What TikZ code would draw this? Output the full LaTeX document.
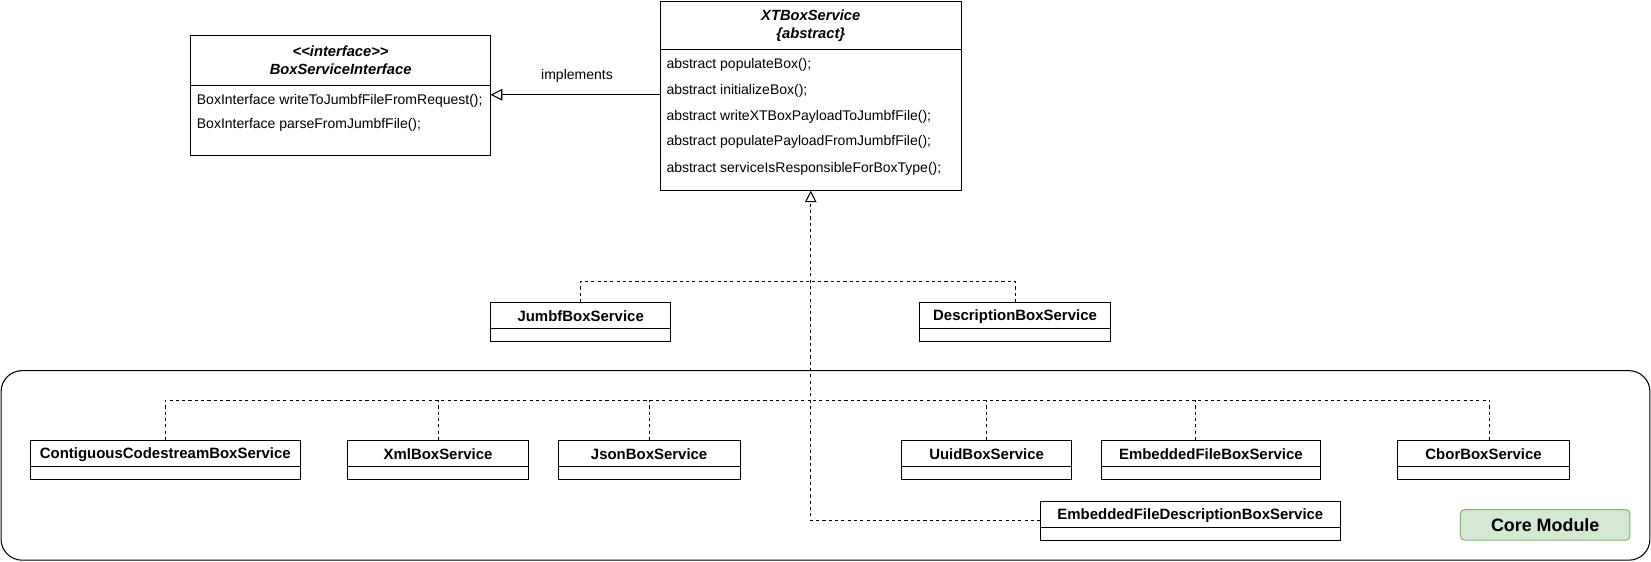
\documentclass[tikz,border=0pt]{standalone}
\usepackage{fontspec}
\setmainfont{Liberation Sans}
\usetikzlibrary{arrows.meta}
\definecolor{coregreen}{HTML}{D5E8D4}
\definecolor{coreline}{HTML}{82B366}
\newcommand{\childcls}[5]{%
  \node[cls, minimum width=#4pt] (#1) at (#2,#3) {};
  \node[clsname] (#1-t) at ([yshift=-13.5pt]#1.north) {#5};
  \draw[solidln] ([yshift=-25pt]#1.north west) -- ([yshift=-25pt]#1.north east);}
\begin{document}
\begin{tikzpicture}[x=1pt,y=-1pt,
  every node/.style={inner sep=0pt, outer sep=0pt},
  solidln/.style={line width=1pt},
  cls/.style={draw, line width=1pt, minimum height=37pt, anchor=north west},
  boxpart/.style={draw, line width=1pt, anchor=north west},
  clsname/.style={font=\fontsize{14.2}{17}\selectfont\bfseries},
  row/.style={anchor=west, font=\fontsize{13.3}{16}\selectfont},
  ttl/.style={font=\fontsize{14}{17}\selectfont\bfseries\itshape, align=center},
  dep/.style={dash pattern=on 3pt off 3pt, line width=1pt},
  opentri/.style={-{Triangle[open,width=11pt,length=11pt]}}
]
\useasboundingbox (0,0) rectangle (1568,533);

% module container
\node[draw, line width=1pt, rounded corners=20pt, minimum width=1566pt, minimum height=180pt, anchor=north west] (module) at (1,352) {};
\node[draw=coreline, fill=coregreen, line width=1pt, rounded corners=4pt, minimum width=161pt, minimum height=29pt, anchor=north west, font=\fontsize{17}{20}\selectfont\bfseries] (core) at (1387,484) {Core Module};

% interface
\node[boxpart, minimum width=285pt, minimum height=47pt] (ifh) at (181,34) {};
\node[boxpart, minimum width=285pt, minimum height=67pt] (ifb) at (181,81) {};
\node[ttl] (ift) at (ifh.center) {{<}{<}interface{>}{>}\\BoxServiceInterface};
\node[row] (ir1) at (187,96) {BoxInterface writeToJumbfFileFromRequest();};
\node[row] (ir2) at (187,119) {BoxInterface parseFromJumbfFile();};

% abstract class
\node[boxpart, minimum width=286pt, minimum height=46pt] (xth) at (627,1) {};
\node[boxpart, minimum width=286pt, minimum height=134pt] (xtb) at (627,47) {};
\node[ttl] (xtt) at (xth.center) {XTBoxService\\\{abstract\}};
\node[row] (xr1) at (633,62) {abstract populateBox();};
\node[row] (xr2) at (633,86) {abstract initializeBox();};
\node[row] (xr3) at (633,111) {abstract writeXTBoxPayloadToJumbfFile();};
\node[row] (xr4) at (633,135) {abstract populatePayloadFromJumbfFile();};
\node[row] (xr5) at (633,160) {abstract serviceIsResponsibleForBoxType();};

% implements
\draw[solidln, opentri] ([yshift=-43pt]xtb.north west) -- ([yshift=-9pt]ifb.north east);
\node[row, anchor=center] (impl) at (548,72) {implements};

% subclasses
\childcls{jumbf}{466}{287}{171}{JumbfBoxService}
\childcls{desc}{873}{287}{182}{DescriptionBoxService}
\childcls{ccs}{29}{418}{256}{ContiguousCodestreamBoxService}
\childcls{xml}{330}{418}{172}{XmlBoxService}
\childcls{json}{530}{418}{173}{JsonBoxService}
\childcls{uuid}{856}{418}{162}{UuidBoxService}
\childcls{efb}{1046}{418}{208}{EmbeddedFileBoxService}
\childcls{cbor}{1327}{418}{164}{CborBoxService}
\childcls{efd}{988}{476}{285}{EmbeddedFileDescriptionBoxService}

% inheritance connectors
\coordinate (j1) at (770,267);
\coordinate (j2) at (770,380);
\draw[dep, opentri] (efd.west) -| (xtb.south);
\draw[dep] (jumbf.north) |- (j1);
\draw[dep] (desc.north) |- (j1);
\draw[dep] (ccs.north) |- (j2);
\draw[dep] (xml.north) -- (xml.north |- j2);
\draw[dep] (json.north) -- (json.north |- j2);
\draw[dep] ([xshift=6pt]cbor.north) |- (j2);
\draw[dep] (uuid.north) -- (uuid.north |- j2);
\draw[dep] ([xshift=-15pt]efb.north) -- ([xshift=-15pt]efb.north |- j2);
\end{tikzpicture}
\end{document}
